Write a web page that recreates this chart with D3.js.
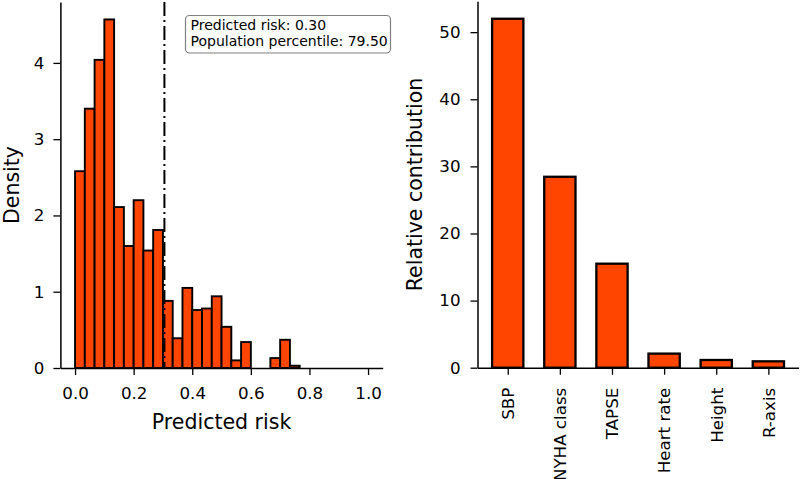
<!DOCTYPE html>
<html>
<head>
<meta charset="utf-8">
<script src="https://cdn.jsdelivr.net/npm/d3@7"></script>
<style>
  html, body { margin: 0; padding: 0; background: #fff; }
  svg { display: block; }
  text { font-family: "DejaVu Sans", sans-serif; fill: #000; }
</style>
</head>
<body>
<svg id="chart" width="800" height="479"></svg>
<script>
// ---------- data ----------
const binStart = 0, binEnd = 1, binCount = 30;
const densityValues = [2.58, 3.40, 4.04, 4.57, 2.11, 1.60, 2.20, 1.54, 1.81, 0.88,
                       0.39, 1.05, 0.76, 0.78, 0.94, 0.54, 0.10, 0.34, 0.00, 0.00,
                       0.13, 0.37, 0.03, 0.00, 0.00, 0.00, 0.00, 0.00, 0.00, 0.00];
const histXTicks = [0.0, 0.2, 0.4, 0.6, 0.8, 1.0];
const histYTicks = [0, 1, 2, 3, 4];
const predictedRisk = 0.305;
const boxLines = ["Predicted risk: 0.30", "Population percentile: 79.50"];

const features = ["SBP", "NYHA class", "TAPSE", "Heart rate", "Height", "R-axis"];
const contributions = [52.0, 28.45, 15.5, 2.1, 1.15, 0.95];
const contribYTicks = [0, 10, 20, 30, 40, 50];

const barFill = "#FF4500";

// ---------- setup ----------
const svg = d3.select("#chart");

function styleAxis(g) {
  g.select(".domain").attr("stroke", "#000").attr("stroke-width", 1.5);
  g.selectAll(".tick line").attr("stroke", "#000").attr("stroke-width", 1.3);
  g.selectAll(".tick text").attr("font-size", "16.7px").attr("font-family", "DejaVu Sans").attr("fill", "#000");
}

// ---------- left: histogram ----------
const L = { left: 60.4, right: 382.7, top: 2, bottom: 368 };
const binW = (binEnd - binStart) / binCount;
const bins = densityValues.map((v, i) => ({ x0: binStart + i * binW, x1: binStart + (i + 1) * binW, v }));
const hx = d3.scaleLinear().domain([-0.05, 1.05]).range([L.left, L.right]);
const hyMax = d3.max(densityValues) * 1.05;
const hy = d3.scaleLinear().domain([0, hyMax]).range([L.bottom, L.top]);

const gL = svg.append("g");
gL.selectAll("rect.bin").data(bins).enter().append("rect")
  .attr("class", "bin")
  .attr("x", d => hx(d.x0))
  .attr("width", d => hx(d.x1) - hx(d.x0))
  .attr("y", d => hy(d.v))
  .attr("height", d => hy(0) - hy(d.v))
  .attr("fill", barFill)
  .attr("stroke", "#000")
  .attr("stroke-width", 1.9);

const hxAxis = gL.append("g").attr("transform", `translate(0,${L.bottom})`)
  .call(d3.axisBottom(hx).tickValues(histXTicks).tickFormat(d3.format(".1f")).tickSize(7).tickPadding(12).tickSizeOuter(0));
styleAxis(hxAxis);
const hyAxis = gL.append("g").attr("transform", `translate(${L.left},0)`)
  .call(d3.axisLeft(hy).tickValues(histYTicks).tickFormat(d3.format("d")).tickSize(7).tickPadding(9).tickSizeOuter(0));
styleAxis(hyAxis);

// predicted risk line
gL.append("line")
  .attr("x1", hx(predictedRisk)).attr("x2", hx(predictedRisk))
  .attr("y1", L.top).attr("y2", L.bottom)
  .attr("stroke", "#000").attr("stroke-width", 2)
  .attr("stroke-dasharray", "14,4,2,4");

// text box
const box = gL.append("g");
box.append("rect")
  .attr("x", 185.5).attr("y", 15.5).attr("width", 205).attr("height", 37.5)
  .attr("rx", 4).attr("ry", 4)
  .attr("fill", "#fff").attr("stroke", "#808080").attr("stroke-width", 1.2);
box.selectAll("text").data(boxLines).enter().append("text")
  .attr("x", 190.5).attr("y", (d, i) => 29.5 + i * 16.5)
  .attr("font-size", "14px")
  .text(d => d);

gL.append("text")
  .attr("x", (L.left + L.right) / 2).attr("y", 429)
  .attr("text-anchor", "middle").attr("font-size", "20.5px")
  .text("Predicted risk");
gL.append("text")
  .attr("transform", `translate(19,${(L.top + L.bottom) / 2}) rotate(-90)`)
  .attr("text-anchor", "middle").attr("font-size", "20.5px")
  .text("Density");

// ---------- right: bar chart ----------
const R = { left: 477.5, right: 798.6, top: 1.3, bottom: 367.7 };
const barWidth = 0.6;
const rx = d3.scaleLinear().domain([-0.58, features.length - 1 + 0.58]).range([R.left, R.right]);
const ryMax = d3.max(contributions) * 1.05;
const ry = d3.scaleLinear().domain([0, ryMax]).range([R.bottom, R.top]);

const gR = svg.append("g");
gR.selectAll("rect.bar").data(contributions).enter().append("rect")
  .attr("class", "bar")
  .attr("x", (d, i) => rx(i - barWidth / 2))
  .attr("width", (d, i) => rx(i + barWidth / 2) - rx(i - barWidth / 2))
  .attr("y", d => ry(d))
  .attr("height", d => ry(0) - ry(d))
  .attr("fill", barFill)
  .attr("stroke", "#000")
  .attr("stroke-width", 2.3);

const rxAxis = gR.append("g").attr("transform", `translate(0,${R.bottom})`)
  .call(d3.axisBottom(rx).tickValues(d3.range(features.length)).tickFormat(i => features[i]).tickSize(7).tickSizeOuter(0));
styleAxis(rxAxis);
rxAxis.selectAll(".tick text")
  .attr("transform", "rotate(-90)")
  .attr("text-anchor", "end")
  .attr("x", -20).attr("y", 0).attr("dy", "0.35em");

const ryAxis = gR.append("g").attr("transform", `translate(${R.left},0)`)
  .call(d3.axisLeft(ry).tickValues(contribYTicks).tickFormat(d3.format("d")).tickSize(7).tickPadding(10).tickSizeOuter(0));
styleAxis(ryAxis);

gR.append("text")
  .attr("transform", `translate(422,${(R.top + R.bottom) / 2}) rotate(-90)`)
  .attr("text-anchor", "middle").attr("font-size", "20.5px")
  .text("Relative contribution");
</script>
</body>
</html>
